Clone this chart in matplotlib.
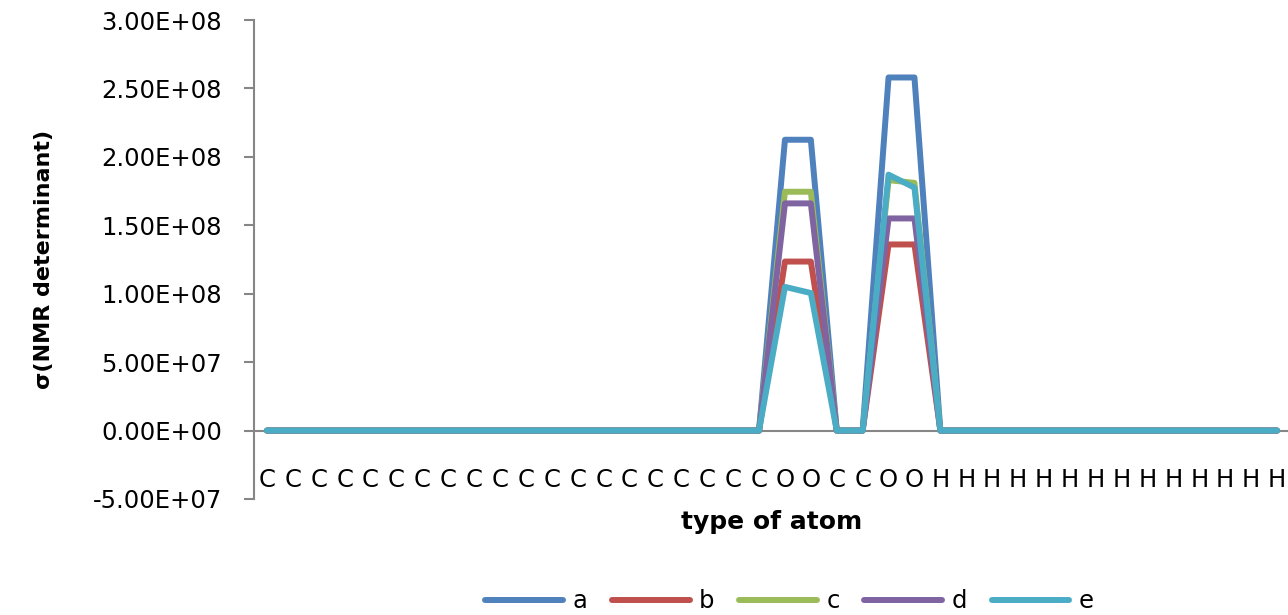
import numpy as np
import matplotlib
matplotlib.use('Agg')
import matplotlib.pyplot as plt

# atom types along the x axis (20 C, O O, C C, O O, 14 H)
atoms = ['C'] * 20 + ['O', 'O', 'C', 'C', 'O', 'O'] + ['H'] * 14

# nonzero values only at the O atoms (indices 20, 21, 24, 25)
peak_idx = [20, 21, 24, 25]
peaks = {
    'a': [2.125e8, 2.125e8, 2.58e8, 2.58e8],
    'b': [1.235e8, 1.235e8, 1.36e8, 1.36e8],
    'c': [1.745e8, 1.745e8, 1.83e8, 1.81e8],
    'd': [1.66e8, 1.66e8, 1.55e8, 1.55e8],
    'e': [1.05e8, 1.005e8, 1.87e8, 1.775e8],
}
colors = ['#4F81BD', '#C0504D', '#9BBB59', '#8064A2', '#4BACC6']

x = np.arange(len(atoms))

fig = plt.figure(figsize=(12.88, 6.15), dpi=100)
ax = fig.add_axes([254 / 1288, 1 - 499 / 615, 1036 / 1288, 479 / 615])

ax.axhline(0, color='#868686', lw=1.5, zorder=1)

for (name, vals), col in zip(peaks.items(), colors):
    y = np.zeros(len(atoms))
    y[peak_idx] = vals
    ax.plot(x, y, color=col, lw=4.3, label=name,
            solid_joinstyle='round', solid_capstyle='round', zorder=3)

ax.set_xlim(-0.5, len(atoms) - 0.5)
ax.set_ylim(-5e7, 3e8)
yt = np.arange(-5e7, 3.01e8, 5e7)
ax.set_yticks(yt)
ax.set_yticklabels([f'{v:.2E}' for v in yt], fontsize=17.5)

ax.set_xticks(x)
ax.set_xticklabels(atoms, fontsize=17.5)
ax.tick_params(axis='x', length=0, pad=-22)
ax.tick_params(axis='y', length=7, width=1.5, color='#868686', pad=16)

for s in ['top', 'right', 'bottom']:
    ax.spines[s].set_visible(False)
ax.spines['left'].set_color('#868686')
ax.spines['left'].set_linewidth(1.5)

ax.set_ylabel('σ(NMR determinant)', fontsize=16, fontweight='bold', labelpad=28)
ax.set_xlabel('type of atom', fontsize=18, fontweight='bold', labelpad=8)

fig.legend(loc='center', bbox_to_anchor=(0.613, 0.022), ncol=5, frameon=False,
           fontsize=17.5, handlelength=3.2, columnspacing=1.0, handletextpad=0.4)

fig.savefig('out.png', dpi=100)
